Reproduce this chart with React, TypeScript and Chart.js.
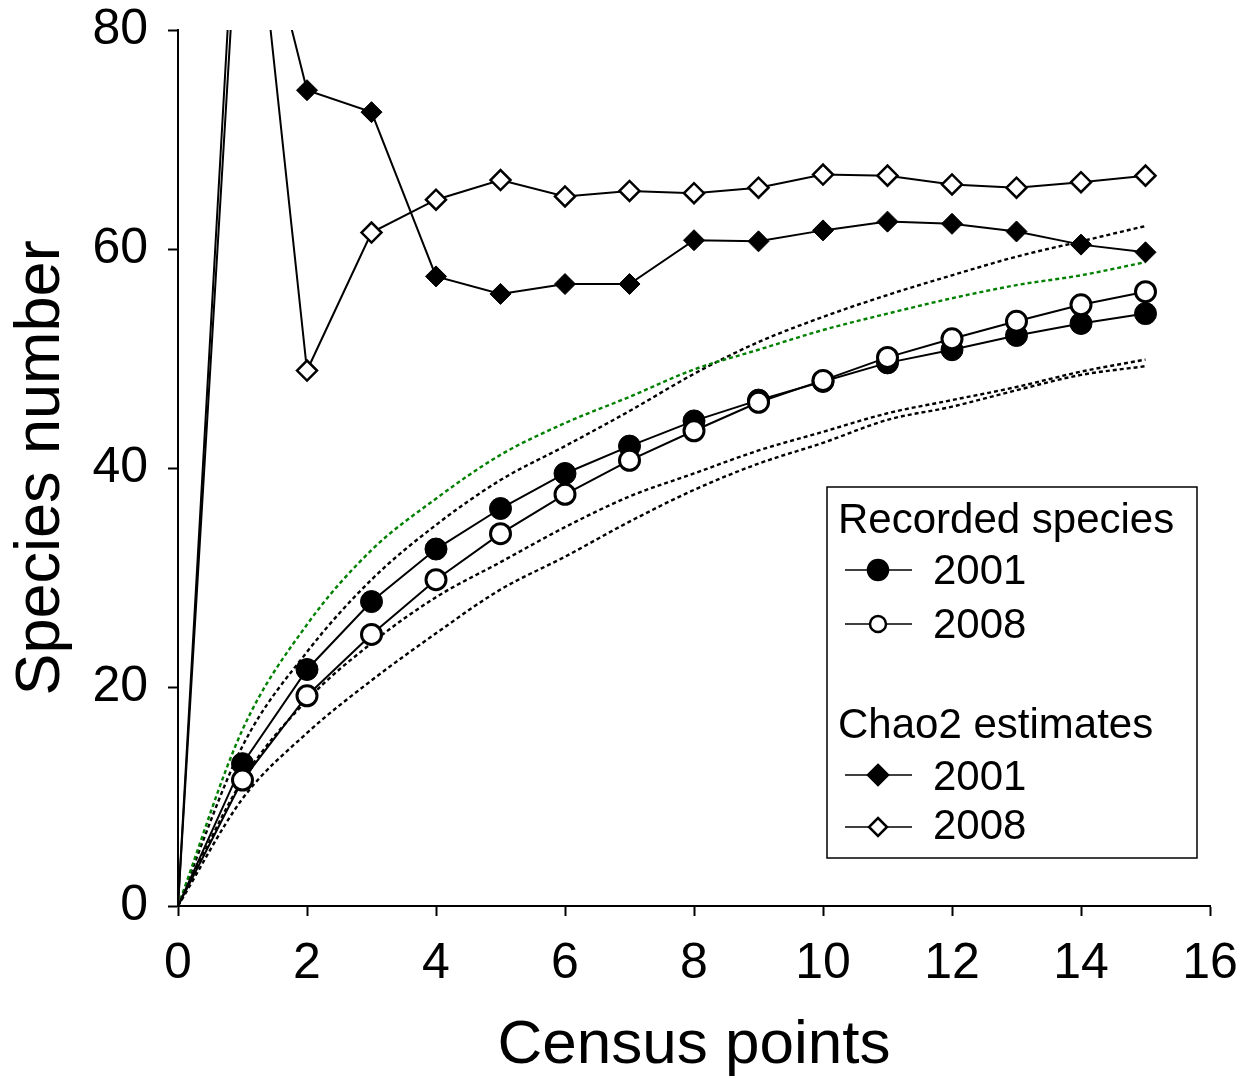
import React, { useEffect, useRef } from "react";
import { Chart, registerables } from "chart.js";

Chart.register(...registerables);

const censusPoints = [0, 1, 2, 3, 4, 5, 6, 7, 8, 9, 10, 11, 12, 13, 14, 15];
const recorded2001 = [0, 13.0, 21.6, 27.8, 32.6, 36.3, 39.5, 42.0, 44.3, 46.2, 47.9, 49.6, 50.8, 52.1, 53.2, 54.1];
const recorded2008 = [0, 11.5, 19.2, 24.8, 29.8, 34.0, 37.6, 40.7, 43.4, 46.0, 48.0, 50.1, 51.8, 53.4, 54.9, 56.1];
const chao2001 = [0, 98, 74.5, 72.5, 57.5, 55.9, 56.8, 56.8, 60.8, 60.7, 61.7, 62.5, 62.3, 61.6, 60.4, 59.7];
const chao2008 = [0, 104, 48.9, 61.5, 64.5, 66.3, 64.8, 65.3, 65.1, 65.6, 66.8, 66.7, 65.9, 65.6, 66.1, 66.7];
const upperCiGreen = [0, 16.1, 25.7, 32.5, 37.2, 41.2, 44.1, 46.5, 49.0, 50.8, 52.6, 54.1, 55.5, 56.7, 57.6, 58.8];
const upperCiBlack = [0, 14.6, 23.2, 29.8, 34.8, 38.9, 42.0, 45.2, 48.6, 51.5, 53.8, 55.8, 57.6, 59.3, 60.7, 62.1];
const lowerCiA = [0, 11.5, 18.8, 24.0, 28.2, 31.4, 34.6, 37.4, 39.5, 41.6, 43.3, 45.0, 46.2, 47.4, 48.8, 49.9];
const lowerCiB = [0, 9.8, 15.8, 20.6, 24.9, 28.9, 31.9, 35.1, 38.0, 40.4, 42.3, 44.4, 45.6, 47.1, 48.5, 49.3];

const xTicks = [0, 2, 4, 6, 8, 10, 12, 14, 16];
const yTicks = [0, 20, 40, 60, 80];

const legendGroups = [
  { title: "Recorded species", items: ["2001", "2008"] },
  { title: "Chao2 estimates", items: ["2001", "2008"] },
];

const FONT = "'Liberation Sans', Arial, sans-serif";

const toPoints = (ys: number[]) => censusPoints.map((x, i) => ({ x, y: ys[i] }));
const radiusArr = (r: number) => censusPoints.map((_, i) => (i === 0 ? 0 : r));

const legendPlugin = {
  id: "customLegend",
  afterDraw(chart: any) {
    const ctx = chart.ctx as CanvasRenderingContext2D;
    ctx.save();
    const bx = 827, by = 487, bw = 370, bh = 371;
    ctx.fillStyle = "#fff";
    ctx.fillRect(bx, by, bw, bh);
    ctx.strokeStyle = "#000";
    ctx.lineWidth = 1.5;
    ctx.strokeRect(bx, by, bw, bh);
    ctx.font = `42px ${FONT}`;
    ctx.fillStyle = "#000";
    ctx.textBaseline = "alphabetic";
    ctx.textAlign = "left";
    const titleBase = [533, 738];
    const itemBase = [[584, 638], [790, 839]];
    const markerY = [[570, 624], [775, 827]];
    legendGroups.forEach((g, gi) => {
      ctx.fillStyle = "#000";
      ctx.fillText(g.title, 838, titleBase[gi]);
      g.items.forEach((it, ii) => {
        const my = markerY[gi][ii];
        ctx.strokeStyle = "#000";
        ctx.lineWidth = 1.5;
        ctx.beginPath();
        ctx.moveTo(845, my);
        ctx.lineTo(912, my);
        ctx.stroke();
        const filled = ii === 0;
        ctx.beginPath();
        if (gi === 0) {
          ctx.arc(878, my, filled ? 10 : 8, 0, Math.PI * 2);
        } else {
          const r = filled ? 10 : 9;
          ctx.moveTo(878, my - r);
          ctx.lineTo(878 + r, my);
          ctx.lineTo(878, my + r);
          ctx.lineTo(878 - r, my);
          ctx.closePath();
        }
        ctx.fillStyle = filled ? "#000" : "#fff";
        ctx.fill();
        ctx.lineWidth = 2.5;
        ctx.stroke();
        ctx.fillStyle = "#000";
        ctx.fillText(it, 933, itemBase[gi][ii]);
      });
    });
    ctx.restore();
  },
};

export default function App() {
  const ref = useRef<HTMLCanvasElement | null>(null);
  useEffect(() => {
    if (!ref.current) return;
    const dotted = (data: number[], color: string, order: number) => ({
      data: toPoints(data),
      showLine: true,
      borderColor: color,
      borderWidth: 2.4,
      borderDash: [4, 3],
      pointRadius: 0,
      tension: 0.35,
      cubicInterpolationMode: "monotone",
      order,
    });
    const chart = new Chart(ref.current, {
      type: "scatter",
      data: {
        datasets: [
          {
            label: "Recorded 2008",
            data: toPoints(recorded2008),
            showLine: true,
            borderColor: "#000",
            borderWidth: 2,
            pointStyle: "circle",
            pointRadius: radiusArr(10),
            pointBackgroundColor: "#fff",
            pointBorderColor: "#000",
            pointBorderWidth: 3,
            order: 0,
          },
          {
            label: "Recorded 2001",
            data: toPoints(recorded2001),
            showLine: true,
            borderColor: "#000",
            borderWidth: 2,
            pointStyle: "circle",
            pointRadius: radiusArr(11),
            pointBackgroundColor: "#000",
            pointBorderColor: "#000",
            pointBorderWidth: 1,
            order: 1,
          },
          {
            label: "Chao2 2008",
            data: toPoints(chao2008),
            showLine: true,
            borderColor: "#000",
            borderWidth: 2,
            pointStyle: "rectRot",
            pointRadius: radiusArr(10),
            pointBackgroundColor: "#fff",
            pointBorderColor: "#000",
            pointBorderWidth: 2.5,
            order: 2,
          },
          {
            label: "Chao2 2001",
            data: toPoints(chao2001),
            showLine: true,
            borderColor: "#000",
            borderWidth: 2,
            pointStyle: "rectRot",
            pointRadius: radiusArr(10.5),
            pointBackgroundColor: "#000",
            pointBorderColor: "#000",
            pointBorderWidth: 1,
            order: 3,
          },
          dotted(upperCiGreen, "rgb(0,128,0)", 4),
          dotted(upperCiBlack, "#000", 5),
          dotted(lowerCiA, "#000", 6),
          dotted(lowerCiB, "#000", 7),
        ],
      },
      options: {
        responsive: false,
        animation: false,
        devicePixelRatio: 1,
        layout: { padding: { top: 30, right: 43, left: 0, bottom: 0 } },
        plugins: { legend: { display: false }, tooltip: { enabled: false } },
        scales: {
          x: {
            type: "linear",
            min: 0,
            max: 16,
            afterBuildTicks: (s: any) => {
              s.ticks = xTicks.map((v) => ({ value: v }));
            },
            ticks: { color: "#000", font: { family: FONT, size: 50 }, padding: 18, maxRotation: 0 },
            grid: { drawOnChartArea: false, drawTicks: true, tickLength: 10, tickColor: "#000", tickWidth: 2 },
            border: { display: true, color: "#000", width: 2 },
            title: { display: true, text: "Census points", color: "#000", font: { family: FONT, size: 62 }, padding: { top: 0, bottom: -4 } },
            afterFit: (s: any) => {
              s.height = 173;
              s.paddingLeft = 0;
              s.paddingRight = 0;
            },
          },
          y: {
            min: 0,
            max: 80,
            afterBuildTicks: (s: any) => {
              s.ticks = yTicks.map((v) => ({ value: v }));
            },
            ticks: { color: "#000", font: { family: FONT, size: 50 }, padding: 20 },
            grid: { drawOnChartArea: false, drawTicks: true, tickLength: 10, tickColor: "#000", tickWidth: 2 },
            border: { display: true, color: "#000", width: 2 },
            title: { display: true, text: "Species number", color: "#000", font: { family: FONT, size: 63 }, padding: { top: 4, bottom: 0 } },
            afterFit: (s: any) => {
              s.width = 178;
              s.paddingTop = 0;
              s.paddingBottom = 0;
            },
          },
        },
      },
      plugins: [legendPlugin],
    } as any);
    return () => chart.destroy();
  }, []);
  return (
    <div style={{ position: "absolute", left: 0, top: 0, width: 1253, height: 1079, background: "#fff" }}>
      <canvas ref={ref} width={1253} height={1079} style={{ display: "block", width: 1253, height: 1079 }} />
    </div>
  );
}
